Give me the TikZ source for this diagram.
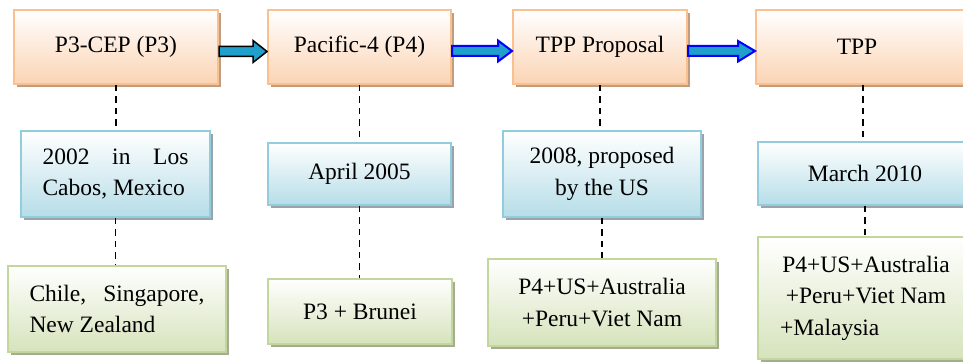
\documentclass[tikz,border=0pt]{standalone}
\usepackage{fontspec}
\setmainfont{Liberation Serif}
\usetikzlibrary{calc,shadows}
\definecolor{obrd}{HTML}{FAC090}
\definecolor{ofill}{HTML}{FBD4B4}
\definecolor{oshad}{HTML}{C09C80}
\definecolor{bbrd}{HTML}{93CDDD}
\definecolor{bfill}{HTML}{B6DDE8}
\definecolor{bshad}{HTML}{98A4AA}
\definecolor{gbrd}{HTML}{C3D69B}
\definecolor{gfill}{HTML}{D6E3BC}
\definecolor{gshad}{HTML}{A4AC94}
\definecolor{arrfill}{HTML}{1E9FCC}
\begin{document}
\begin{tikzpicture}[x=1pt,y=-1pt,
  box/.style={rectangle, line width=2pt, inner sep=0pt,
    font=\fontsize{23.5}{31.5}\selectfont},
  obox/.style={box, draw=obrd, top color=white, bottom color=ofill,
    drop shadow={shadow xshift=3pt, shadow yshift=-3pt, fill=oshad, opacity=1}},
  bbox/.style={box, draw=bbrd, top color=white, bottom color=bfill,
    drop shadow={shadow xshift=3pt, shadow yshift=-3pt, fill=bshad, opacity=1}},
  gbox/.style={box, draw=gbrd, top color=white, bottom color=gfill,
    drop shadow={shadow xshift=3pt, shadow yshift=-3pt, fill=gshad, opacity=1}},
  dline/.style={draw=black, line width=1.8pt, dash pattern=on 6.5pt off 5pt},
  blockarrowA/.style={draw=black, line width=1.5pt, fill=arrfill, line join=miter},
  blockarrowB/.style={draw=blue, line width=2pt, fill=arrfill, line join=miter}
]
\useasboundingbox (0,0) rectangle (963,363);
\clip (0,0) rectangle (963,363);
\fill[white] (0,0) rectangle (963,363);

% top row
\node[obox, minimum width=204pt, minimum height=74pt] (o1) at (116,47) {P3-CEP (P3)};
\node[obox, minimum width=183pt, minimum height=74pt] (o2) at (359.5,47) {Pacific-4 (P4)};
\node[obox, minimum width=174pt, minimum height=74pt] (o3) at (600,47) {TPP Proposal};
\node[obox, minimum width=214pt, minimum height=74pt] (o4) at (863,47) {\hspace*{-12pt}TPP};

% middle row
\node[bbox, minimum width=189pt, minimum height=86pt, align=left] (b1) at (115.5,174)
  {\hbox to 146pt{2002\hfill in\hfill Los}\\Cabos, Mexico};
\node[bbox, minimum width=183pt, minimum height=62pt] (b2) at (359.5,174) {April 2005};
\node[bbox, minimum width=198pt, minimum height=86pt, align=center] (b3) at (602,174)
  {2008, proposed\\by the US};
\node[bbox, minimum width=214pt, minimum height=63pt] (b4) at (865,173.5) {March 2010};

% bottom row
\node[gbox, minimum width=218pt, minimum height=86pt, align=left] (g1) at (117,309)
  {\hbox to 175pt{Chile,\hfill Singapore,}\\New Zealand};
\node[gbox, minimum width=184pt, minimum height=65pt] (g2) at (360,311.5) {P3 + Brunei};
\node[gbox, minimum width=228pt, minimum height=87pt, align=center] (g3) at (602,302.5)
  {P4+US+Australia\\+Peru+Viet Nam};
\node[gbox, minimum width=217pt, minimum height=122pt, align=left] (g4) at (866,298)
  {\hbox to 172pt{\hfil P4+US+Australia\hfil}\\\hbox to 172pt{\hfil +Peru+Viet Nam\hfil}\\+Malaysia};

% dashed connectors
\foreach \c in {1,2,3,4}{
  \draw[dline] (o\c.south) -- (o\c.south |- b\c.north);
  \draw[dline] (b\c.south) -- (b\c.south |- g\c.north);
}

% block arrows
\draw[blockarrowA] ($(o1.east)+(0,-0.5)$) -- ($(o2.west)+(-14,-0.5)$)
  -- ($(o2.west)+(-14,-6.5)$) -- ($(o2.west)+(0,4.5)$)
  -- ($(o2.west)+(-14,15.5)$) -- ($(o2.west)+(-14,9.5)$)
  -- ($(o1.east)+(0,9.5)$) -- cycle;
\draw[blockarrowB] ($(o2.east)+(0,-1)$) -- ($(o3.west)+(-14,-1)$)
  -- ($(o3.west)+(-14,-6.5)$) -- ($(o3.west)+(0,4)$)
  -- ($(o3.west)+(-14,14.5)$) -- ($(o3.west)+(-14,9)$)
  -- ($(o2.east)+(0,9)$) -- cycle;
\draw[blockarrowB] ($(o3.east)+(0,-1)$) -- ($(o4.west)+(-17,-1)$)
  -- ($(o4.west)+(-17,-6)$) -- ($(o4.west)+(0,4)$)
  -- ($(o4.west)+(-17,14.5)$) -- ($(o4.west)+(-17,9)$)
  -- ($(o3.east)+(0,9)$) -- cycle;
\end{tikzpicture}
\end{document}
